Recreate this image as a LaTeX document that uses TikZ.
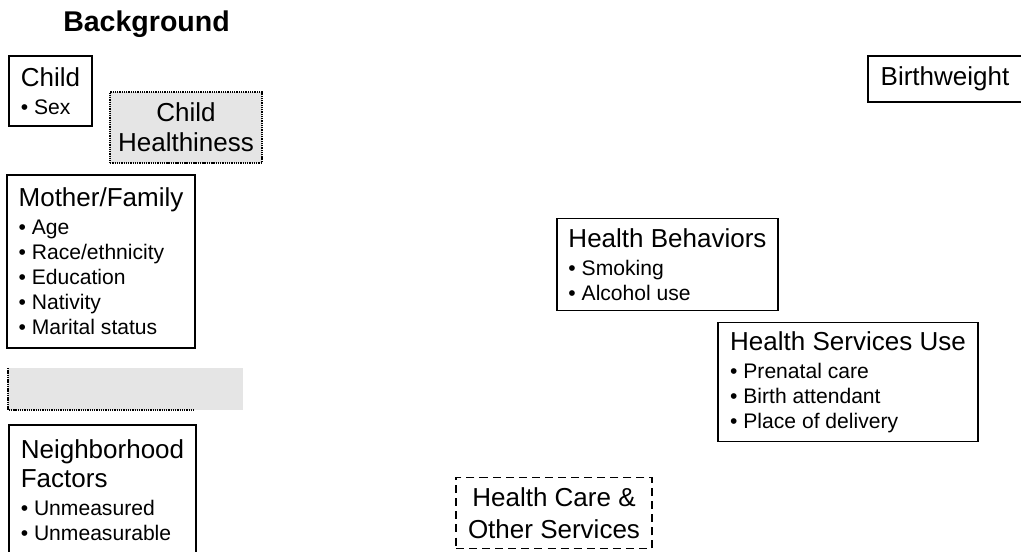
\documentclass[tikz,border=0pt]{standalone}
\usepackage{fontspec}
\setmainfont{Liberation Sans}
\newcommand{\hd}{\fontsize{18.5pt}{21.6pt}\selectfont}
\newcommand{\itm}{\fontsize{15pt}{17.8pt}\selectfont}

\begin{document}
\begin{tikzpicture}[
    x=0.7113pt, y=-0.7113pt,
    box/.style={draw, line width=0.8pt, inner sep=0pt, align=left, font=\itm},
    ttl/.style={box, align=center, font=\hd},
    shade/.style={fill=black!10},
    dots/.style={line width=1pt, dash pattern=on 0.9pt off 0.7pt}
]
    \useasboundingbox (0,0) rectangle (1021,552);

    % Heading
    \node[anchor=base, font=\fontsize{20.3pt}{24pt}\selectfont\bfseries] (bg) at (146.5,32) {Background};

    % Background factors
    \node[box, minimum width=59pt, minimum height=49.8pt] (child) at (50.5,91)
        {{\hd Child}\\[2.1pt]• Sex};
    \node[ttl, shade, dots, minimum width=108.1pt, minimum height=50.5pt] (health) at (186,127.5)
        {Child\\Healthiness};
    \node[box, minimum width=133.7pt, minimum height=123.1pt] (mother) at (101,261.5)
        {{\hd Mother/Family}\\[2.1pt]• Age\\• Race/ethnicity\\• Education\\• Nativity\\• Marital status};

    % empty shaded band
    \fill[shade] (8,368) rectangle (243,410);
    \draw[dots] (8,368) -- (8,410) -- (195,410);

    \node[box, minimum width=133pt, minimum height=92.5pt] (nbhd) at (102.5,490)
        {{\hd Neighborhood}\\[3.2pt]{\hd Factors}\\[2.1pt]• Unmeasured\\• Unmeasurable};

    % Mediators
    \node[box, minimum width=157.2pt, minimum height=65.4pt] (behav) at (667.5,264.5)
        {{\hd Health Behaviors}\\[2.1pt]• Smoking\\• Alcohol use};
    \node[box, minimum width=184.9pt, minimum height=84.6pt] (serv) at (848,382)
        {{\hd Health Services Use}\\[2.1pt]• Prenatal care\\• Birth attendant\\• Place of delivery};
    \node[ttl, dash pattern=on 5.7pt off 3.6pt, minimum width=139.4pt, minimum height=50.5pt] (care) at (554,513)
        {Health Care \&\\[1pt]Other Services};

    % Outcome
    \node[ttl, minimum width=109.5pt, minimum height=32.7pt] (bw) at (945,79) {Birthweight};

\end{tikzpicture}
\end{document}
